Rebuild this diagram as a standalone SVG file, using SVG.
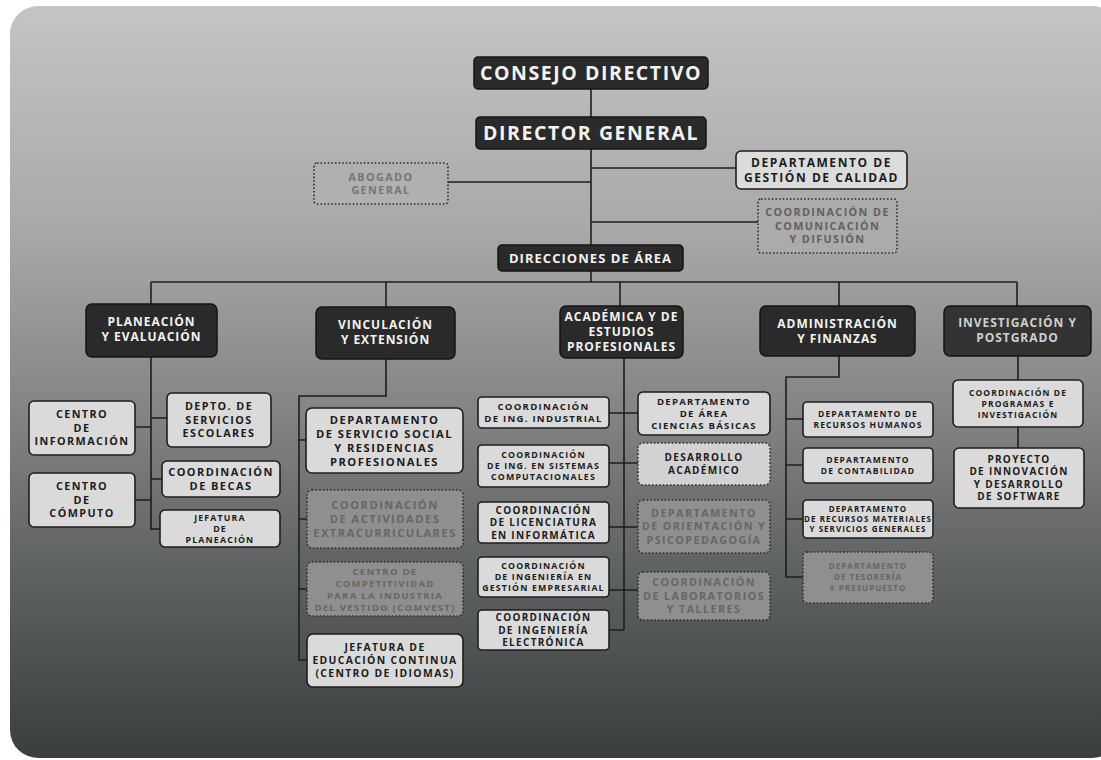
<svg xmlns="http://www.w3.org/2000/svg" width="1101" height="760" viewBox="0 0 1101 760">
<defs>
<linearGradient id="bg" x1="0" y1="0" x2="0" y2="1">
<stop offset="0" stop-color="#c4c4c4"/>
<stop offset="0.3" stop-color="#a8a8a8"/>
<stop offset="0.5" stop-color="#8a8a8a"/>
<stop offset="0.75" stop-color="#5f6262"/>
<stop offset="1" stop-color="#3a3e3e"/>
</linearGradient>
<style>
text{font-family:"Open Sans","Liberation Sans",sans-serif;font-weight:700;text-anchor:middle;letter-spacing:0.13em}
.dk rect{fill:#2a2a2a;stroke:#141414;stroke-width:1.5}
.dk text{fill:#f2f2f2;letter-spacing:0.08em}
.lt rect{fill:#dadada;stroke:#1e1e1e;stroke-width:1.6}
.lt text{fill:#1c1c1c}
.dt rect{fill:#8f8f8f;stroke:#2e2e2e;stroke-width:1.6;stroke-dasharray:1.6 2}
.dt text{fill:#666}
.dl rect{fill:#d2d2d2;stroke:#2e2e2e;stroke-width:1.6;stroke-dasharray:1.6 2}
.dl text{fill:#1c1c1c}
#conn path{fill:none;stroke:#1e1e1e;stroke-width:1.6}
</style>
</defs>
<rect x="10" y="6" width="1110" height="752" rx="28" fill="url(#bg)"/>

<g id="conn">
<path d="M591 89V245M448 182H591M591 168H736M591 222H758M591 271V282M151 282H1017"/>
<path d="M151 282V304M386 282V307M620 282V306M839 282V306M1017 282V306"/>
<path d="M151 357V530M135 427H151M151 418H167M151 479H162M135 500H151M151 529H160"/>
<path d="M386 359V396H299V660H307M299 440H306M299 519H307M299 589H307"/>
<path d="M624 358V630M609 413H638M609 463H638M609 527H638M609 590H638M609 630H624"/>
<path d="M839 356V377H786V577H803M786 419H803M786 465H803M786 519H803"/>
<path d="M1018 356V380M1018 427V448"/>
</g>

<g id="consejo" class="dk"><rect x="474" y="57" width="234" height="32" rx="4"/><text x="591" y="80" font-size="19.5">CONSEJO DIRECTIVO</text></g>
<g id="director" class="dk"><rect x="476" y="117" width="230" height="32" rx="4"/><text x="591" y="140" font-size="19.5">DIRECTOR GENERAL</text></g>
<g id="abogado" class="dt"><rect x="314" y="163" width="134" height="41" rx="3" style="fill:#b0b0b0"/><text font-size="10.8" style="fill:#757575"><tspan x="381" y="180.6">ABOGADO</tspan><tspan x="381" y="194.1">GENERAL</tspan></text></g>
<g id="calidad" class="lt"><rect x="736" y="151" width="171" height="38" rx="5" style="fill:#dcdcdc"/><text font-size="12"><tspan x="821.5" y="166.8">DEPARTAMENTO DE</tspan><tspan x="821.5" y="181.8">GESTIÓN DE CALIDAD</tspan></text></g>
<g id="comunicacion" class="dt"><rect x="758" y="199" width="139" height="54" rx="3" style="fill:#ababab"/><text font-size="10.8" style="fill:#606060"><tspan x="827.5" y="216.4">COORDINACIÓN DE</tspan><tspan x="827.5" y="229.9">COMUNICACIÓN</tspan><tspan x="827.5" y="243.4">Y DIFUSIÓN</tspan></text></g>
<g id="direcciones" class="dk"><rect x="498" y="245" width="185" height="26" rx="4"/><text x="590.5" y="262.7" font-size="13">DIRECCIONES DE ÁREA</text></g>

<g id="planeacion" class="dk"><rect x="86" y="304" width="131" height="53" rx="6"/><text font-size="12"><tspan x="151.5" y="326">PLANEACIÓN</tspan><tspan x="151.5" y="341">Y EVALUACIÓN</tspan></text></g>
<g id="vinculacion" class="dk"><rect x="316" y="307" width="139" height="52" rx="6"/><text font-size="12"><tspan x="385.5" y="329">VINCULACIÓN</tspan><tspan x="385.5" y="344">Y EXTENSIÓN</tspan></text></g>
<g id="academica" class="dk"><rect x="560" y="306" width="123" height="52" rx="6"/><text font-size="12"><tspan x="621.5" y="321">ACADÉMICA Y DE</tspan><tspan x="621.5" y="336">ESTUDIOS</tspan><tspan x="621.5" y="351">PROFESIONALES</tspan></text></g>
<g id="administracion" class="dk"><rect x="760" y="306" width="155" height="50" rx="6"/><text font-size="12"><tspan x="837.5" y="328">ADMINISTRACIÓN</tspan><tspan x="837.5" y="343">Y FINANZAS</tspan></text></g>
<g id="investigacion" class="dk"><rect x="944" y="306" width="147" height="50" rx="6" style="fill:#333"/><text font-size="12" style="fill:#cfcfcf"><tspan x="1017.5" y="327">INVESTIGACIÓN Y</tspan><tspan x="1017.5" y="342">POSTGRADO</tspan></text></g>

<g id="centro-informacion" class="lt"><rect x="29" y="401" width="106" height="54" rx="5"/><text font-size="10.8"><tspan x="82" y="418.4">CENTRO</tspan><tspan x="82" y="431.9">DE</tspan><tspan x="82" y="445.4">INFORMACIÓN</tspan></text></g>
<g id="centro-computo" class="lt"><rect x="29" y="473" width="106" height="54" rx="5"/><text font-size="10.8"><tspan x="82" y="490.4">CENTRO</tspan><tspan x="82" y="503.9">DE</tspan><tspan x="82" y="517.4">CÓMPUTO</tspan></text></g>
<g id="servicios-escolares" class="lt"><rect x="167" y="393" width="104" height="54" rx="5"/><text font-size="10.8"><tspan x="219" y="410.4">DEPTO. DE</tspan><tspan x="219" y="423.9">SERVICIOS</tspan><tspan x="219" y="437.4">ESCOLARES</tspan></text></g>
<g id="becas" class="lt"><rect x="162" y="461" width="118" height="36" rx="5"/><text font-size="11"><tspan x="221" y="476.1">COORDINACIÓN</tspan><tspan x="221" y="489.9">DE BECAS</tspan></text></g>
<g id="jefatura-planeacion" class="lt"><rect x="160" y="510" width="120" height="37" rx="5"/><text font-size="8.8"><tspan x="220" y="520.7">JEFATURA</tspan><tspan x="220" y="531.7">DE</tspan><tspan x="220" y="542.7">PLANEACIÓN</tspan></text></g>

<g id="servicio-social" class="lt"><rect x="306" y="408" width="157" height="65" rx="6"/><text font-size="11.2"><tspan x="384.5" y="423.5">DEPARTAMENTO</tspan><tspan x="384.5" y="437.5">DE SERVICIO SOCIAL</tspan><tspan x="384.5" y="451.5">Y RESIDENCIAS</tspan><tspan x="384.5" y="465.5">PROFESIONALES</tspan></text></g>
<g id="extracurriculares" class="dt"><rect x="307" y="490" width="156" height="58" rx="5"/><text font-size="11.2"><tspan x="385" y="509">COORDINACIÓN</tspan><tspan x="385" y="523">DE ACTIVIDADES</tspan><tspan x="385" y="537">EXTRACURRICULARES</tspan></text></g>
<g id="comvest" class="dt"><rect x="307" y="562" width="156" height="54" rx="5"/><text font-size="9.6"><tspan x="385" y="574.5">CENTRO DE</tspan><tspan x="385" y="586.5">COMPETITIVIDAD</tspan><tspan x="385" y="598.5">PARA LA INDUSTRIA</tspan><tspan x="385" y="610.5">DEL VESTIDO (COMVEST)</tspan></text></g>
<g id="educacion-continua" class="lt"><rect x="307" y="634" width="156" height="53" rx="6"/><text font-size="10.4"><tspan x="385" y="651.2">JEFATURA DE</tspan><tspan x="385" y="664.2">EDUCACIÓN CONTINUA</tspan><tspan x="385" y="677.2">(CENTRO DE IDIOMAS)</tspan></text></g>

<g id="ing-industrial" class="lt"><rect x="478" y="397" width="131" height="31" rx="4"/><text font-size="9.6"><tspan x="543.5" y="410">COORDINACIÓN</tspan><tspan x="543.5" y="422">DE ING. INDUSTRIAL</tspan></text></g>
<g id="ing-sistemas" class="lt"><rect x="478" y="445" width="131" height="42" rx="4"/><text font-size="8.8"><tspan x="543.5" y="458.2">COORDINACIÓN</tspan><tspan x="543.5" y="469.2">DE ING. EN SISTEMAS</tspan><tspan x="543.5" y="480.2">COMPUTACIONALES</tspan></text></g>
<g id="lic-informatica" class="lt"><rect x="478" y="502" width="131" height="41" rx="4"/><text font-size="10"><tspan x="543.5" y="513.6">COORDINACIÓN</tspan><tspan x="543.5" y="526.1">DE LICENCIATURA</tspan><tspan x="543.5" y="538.6">EN INFORMÁTICA</tspan></text></g>
<g id="ing-gestion" class="lt"><rect x="478" y="557" width="131" height="40" rx="4"/><text font-size="8.8"><tspan x="543.5" y="569.2">COORDINACIÓN</tspan><tspan x="543.5" y="580.2">DE INGENIERÍA EN</tspan><tspan x="543.5" y="591.2">GESTIÓN EMPRESARIAL</tspan></text></g>
<g id="ing-electronica" class="lt"><rect x="478" y="610" width="131" height="40" rx="4"/><text font-size="10"><tspan x="543.5" y="621.1">COORDINACIÓN</tspan><tspan x="543.5" y="633.6">DE INGENIERÍA</tspan><tspan x="543.5" y="646.1">ELECTRÓNICA</tspan></text></g>
<g id="ciencias-basicas" class="lt"><rect x="638" y="392" width="132" height="43" rx="5"/><text font-size="9.6"><tspan x="704" y="405">DEPARTAMENTO</tspan><tspan x="704" y="417">DE ÁREA</tspan><tspan x="704" y="429">CIENCIAS BÁSICAS</tspan></text></g>
<g id="desarrollo-academico" class="dl"><rect x="638" y="443" width="132" height="42" rx="5"/><text font-size="10"><tspan x="704" y="461.4">DESARROLLO</tspan><tspan x="704" y="473.9">ACADÉMICO</tspan></text></g>
<g id="psicopedagogia" class="dt"><rect x="638" y="500" width="132" height="53" rx="5"/><text font-size="10.8"><tspan x="704" y="516.9">DEPARTAMENTO</tspan><tspan x="704" y="530.4">DE ORIENTACIÓN Y</tspan><tspan x="704" y="543.9">PSICOPEDAGOGÍA</tspan></text></g>
<g id="laboratorios" class="dt"><rect x="638" y="572" width="132" height="48" rx="5"/><text font-size="10.8"><tspan x="704" y="586.4">COORDINACIÓN</tspan><tspan x="704" y="599.9">DE LABORATORIOS</tspan><tspan x="704" y="613.4">Y TALLERES</tspan></text></g>

<g id="recursos-humanos" class="lt"><rect x="803" y="402" width="130" height="35" rx="4"/><text font-size="8.5"><tspan x="868" y="417.1">DEPARTAMENTO DE</tspan><tspan x="868" y="428.1">RECURSOS HUMANOS</tspan></text></g>
<g id="contabilidad" class="lt"><rect x="803" y="448" width="130" height="35" rx="4"/><text font-size="8.5"><tspan x="868" y="463.1">DEPARTAMENTO</tspan><tspan x="868" y="474.1">DE CONTABILIDAD</tspan></text></g>
<g id="recursos-materiales" class="lt"><rect x="803" y="500" width="130" height="38" rx="4"/><text font-size="8"><tspan x="868" y="511.9">DEPARTAMENTO</tspan><tspan x="868" y="521.9">DE RECURSOS MATERIALES</tspan><tspan x="868" y="531.9">Y SERVICIOS GENERALES</tspan></text></g>
<g id="tesoreria" class="dt"><rect x="803" y="552" width="130" height="51" rx="4"/><text font-size="8"><tspan x="868" y="569.4">DEPARTAMENTO</tspan><tspan x="868" y="580.4">DE TESORERÍA</tspan><tspan x="868" y="591.4">Y PRESUPUESTO</tspan></text></g>

<g id="programas-investigacion" class="lt"><rect x="953" y="380" width="130" height="47" rx="5"/><text font-size="8.5"><tspan x="1018" y="395.6">COORDINACIÓN DE</tspan><tspan x="1018" y="406.6">PROGRAMAS E</tspan><tspan x="1018" y="417.6">INVESTIGACIÓN</tspan></text></g>
<g id="proyecto-software" class="lt"><rect x="954" y="448" width="130" height="60" rx="5"/><text font-size="10"><tspan x="1019" y="462.9">PROYECTO</tspan><tspan x="1019" y="475.4">DE INNOVACIÓN</tspan><tspan x="1019" y="487.9">Y DESARROLLO</tspan><tspan x="1019" y="500.4">DE SOFTWARE</tspan></text></g>
</svg>
